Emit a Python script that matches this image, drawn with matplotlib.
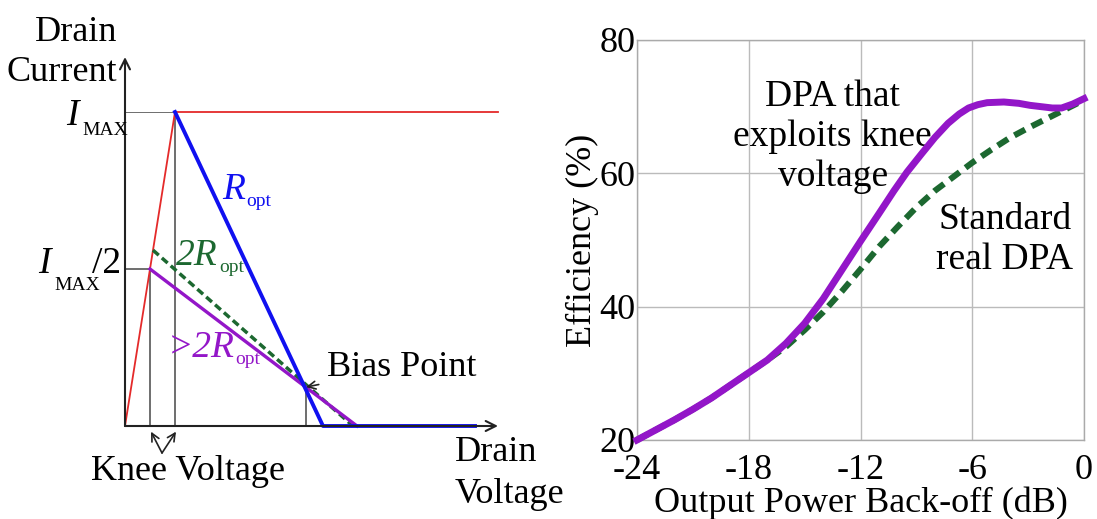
"""Load lines of a transistor and DPA efficiency versus back-off."""

import matplotlib
matplotlib.use("Agg")
import matplotlib.pyplot as plt

plt.rcParams["font.family"] = ["Liberation Serif", "DejaVu Serif"]

# left panel: load lines (voltage, current), current normalised to I_MAX
I_MAX = 1.0
KNEE_FULL = 0.50
KNEE_HALF = 0.25
BIAS = (1.81, 0.124)
V_END = 3.73
R_OPT_LINE = [(0.50, 1.00), (1.98, 0.0), (3.50, 0.0)]
TWO_R_LINE = [(0.28, 0.56), (2.28, 0.0)]
GT_TWO_R_LINE = [(0.25, 0.50), (2.32, 0.0)]

# right panel: efficiency (%) vs output power back-off (dB)
backoff_knee = [-24, -23, -22, -21, -20, -19, -18, -17, -16, -15, -14, -13,
                -12, -11, -10.2, -9.5, -8.7, -8.0, -7.3, -6.7, -6.2, -5.7,
                -5.2, -4.3, -3.5, -2.9, -2.3, -1.7, -1.2, -0.6, 0]
eff_knee = [20.0, 21.5, 23.0, 24.6, 26.3, 28.2, 30.1, 32.0, 34.5, 37.5, 41.2, 45.5,
            49.8, 54.0, 57.4, 60.2, 63.0, 65.4, 67.5, 68.9, 69.8, 70.3,
            70.6, 70.7, 70.5, 70.2, 70.0, 69.8, 69.8, 70.4, 71.2]
backoff_std = [-24, -23, -22, -21, -20, -19, -18, -17, -16, -15, -14, -13,
               -12, -11, -10, -9, -8, -7, -6, -5, -4, -3, -2, -1, 0]
eff_std = [20.0, 21.5, 23.0, 24.6, 26.3, 28.2, 30.1, 32.0, 34.0, 36.5, 39.2, 42.3,
           45.6, 49.0, 52.0, 54.9, 57.4, 59.5, 61.6, 63.5, 65.3, 66.8, 68.2, 69.6, 71.0]
x_ticks = [-24, -18, -12, -6, 0]
y_ticks = [20, 40, 60, 80]

RED = "#e42a2a"
BLUE = "#1010f0"
PURPLE = "#9316c8"
GREEN = "#1c6830"
GRAY = "#555555"
FS = 26
FS_BIG = 27
FS_SUB = 14

W, H = 1097, 519
fig = plt.figure(figsize=(W / 100, H / 100), dpi=100)


def px_axes(x0, y0, x1, y1):
    return fig.add_axes([x0 / W, 1 - y1 / H, (x1 - x0) / W, (y1 - y0) / H])


def piece(ax, x, y, s, size, color="black", italic=False):
    ax.text(x, y, s, fontsize=size, color=color, ha="left", va="baseline",
            style="italic" if italic else "normal", clip_on=False)


# ---------- left ----------
ax = px_axes(125, 112, 498, 426)
ax.set_xlim(0, V_END)
ax.set_ylim(0, I_MAX)
ax.axis("off")

arrow = dict(arrowstyle="->", color="#222222", lw=1.5, shrinkA=0, shrinkB=0,
             mutation_scale=18)
ax.annotate("", xy=(0, 1.175), xytext=(0, 0), arrowprops=arrow, annotation_clip=False)
ax.annotate("", xy=(V_END, 0), xytext=(0, 0), arrowprops=arrow, annotation_clip=False)

# reference lines
ax.plot([0, KNEE_FULL], [I_MAX, I_MAX], color=GRAY, lw=1.2)
ax.plot([0, KNEE_HALF], [I_MAX / 2, I_MAX / 2], color=GRAY, lw=1.2)
ax.plot([KNEE_FULL, KNEE_FULL], [0, I_MAX], color=GRAY, lw=1.2)
ax.plot([KNEE_HALF, KNEE_HALF], [0, I_MAX / 2], color=GRAY, lw=1.2)
ax.plot([BIAS[0], BIAS[0]], [0, BIAS[1]], color=GRAY, lw=1.2)

# knee boundary
ax.plot([0, KNEE_FULL, V_END], [0, I_MAX, I_MAX], color=RED, lw=1.3, clip_on=False)

xs, ys = zip(*TWO_R_LINE)
ax.plot(xs, ys, color=GREEN, lw=2.5, ls=(0, (2.2, 1.2)), clip_on=False)
xs, ys = zip(*GT_TWO_R_LINE)
ax.plot(xs, ys, color=PURPLE, lw=2.4, clip_on=False)
xs, ys = zip(*R_OPT_LINE)
ax.plot(xs, ys, color=BLUE, lw=2.8, clip_on=False)

# current labels
piece(ax, -0.59, 0.959, "I", FS_BIG, italic=True)
piece(ax, -0.43, 0.928, "MAX", FS_SUB)
piece(ax, -0.87, 0.487, "I", FS_BIG, italic=True)
piece(ax, -0.71, 0.433, "MAX", FS_SUB)
piece(ax, -0.33, 0.487, "/2", FS_BIG)

# load line labels
piece(ax, 0.97, 0.723, "R", FS_BIG, BLUE, italic=True)
piece(ax, 1.21, 0.700, "opt", FS_SUB, BLUE)
piece(ax, 0.51, 0.513, "2R", FS_BIG, GREEN, italic=True)
piece(ax, 0.94, 0.490, "opt", FS_SUB, GREEN)
piece(ax, 0.43, 0.220, ">2R", FS_BIG, PURPLE, italic=True)
piece(ax, 1.10, 0.197, "opt", FS_SUB, PURPLE)

ax.annotate("Bias Point", xy=BIAS, xytext=(2.02, 0.185), fontsize=FS, va="center",
            arrowprops=dict(arrowstyle="->", color="#222222", lw=1.2,
                            shrinkA=4, shrinkB=0, mutation_scale=14))
for kx in (KNEE_HALF, KNEE_FULL):
    ax.annotate("", xy=(kx + 0.01, -0.018), xytext=(0.37, -0.086), annotation_clip=False,
                arrowprops=dict(arrowstyle="->", color="#222222", lw=1.2,
                                shrinkA=0, shrinkB=0, mutation_scale=14))
ax.text(0.63, -0.145, "Knee Voltage", fontsize=FS, ha="center", va="center")
ax.text(-0.08, 1.19, "Drain\nCurrent", fontsize=FS, ha="right", va="center",
        multialignment="right", linespacing=1.3)
ax.text(3.30, -0.151, "Drain\nVoltage", fontsize=FS, ha="left", va="center",
        multialignment="left", linespacing=1.35)

# ---------- right ----------
ax2 = px_axes(637, 40, 1084, 440)
ax2.set_xlim(-24, 0)
ax2.set_ylim(20, 80)
ax2.set_xticks(x_ticks, [str(t) for t in x_ticks])
ax2.set_yticks(y_ticks, [str(t) for t in y_ticks])
ax2.tick_params(axis="x", length=0, labelsize=FS, pad=10)
ax2.tick_params(axis="y", length=0, labelsize=FS, pad=1)
ax2.grid(color="#bbbbbb", lw=1.0)
for s in ax2.spines.values():
    s.set_color("#aaaaaa")
    s.set_linewidth(1.0)

ax2.plot(backoff_std, eff_std, color=GREEN, lw=4.4, ls=(0, (2.0, 1.2)),
         clip_on=False, zorder=3)
ax2.plot(backoff_knee, eff_knee, color=PURPLE, lw=5, clip_on=False, zorder=4)

ax2.set_xlabel("Output Power Back-off (dB)", fontsize=FS, labelpad=0)
ax2.set_ylabel("Efficiency (%)", fontsize=FS, labelpad=0)
ax2.text(-13.5, 65.5, "DPA that\nexploits knee\nvoltage", fontsize=FS + 1,
         ha="center", va="center", linespacing=1.2)
ax2.text(-4.25, 50.0, "Standard\nreal DPA", fontsize=FS + 1, ha="center", va="center",
         linespacing=1.2)

fig.savefig("out.png", dpi=100)
